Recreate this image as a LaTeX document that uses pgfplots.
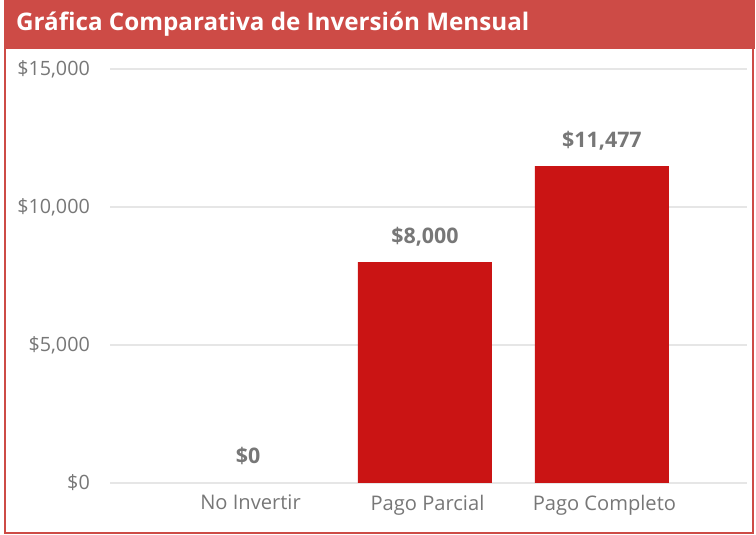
\documentclass[border=0pt]{standalone}
\usepackage{fontspec}
\setmainfont{Open Sans}
\usepackage{pgfplots}
\pgfplotsset{compat=1.18}
\definecolor{titlered}{HTML}{CD4B46}
\definecolor{barred}{HTML}{CA1414}
\definecolor{gridgray}{HTML}{E6E6E6}
\definecolor{txtgray}{HTML}{777777}
\begin{document}
\begin{tikzpicture}[x=1bp,y=1bp]
\path[fill=white] (0,0) rectangle (756,535);
\fill[titlered] (4,486) rectangle (755,535);
\draw[titlered, line width=2bp] (5,486) -- (5,2) -- (753,2) -- (753,486);
\node[anchor=west, text=white, font=\fontsize{24.3}{28}\selectfont\bfseries, inner sep=0] at (16,511) {Gráfica Comparativa de Inversión Mensual};
\begin{axis}[
  at={(110bp,52bp)}, anchor=south west,
  scale only axis, width=637bp, height=414bp,
  xmin=-0.78, xmax=2.82, ymin=0, ymax=15000,
  axis x line*=bottom, axis y line*=left,
  axis line style={draw=none},
  scaled y ticks=false,
  ytick={0,5000,10000,15000},
  yticklabels={\$0,{\$5,000},{\$10,000},{\$15,000}},
  xtick={0,1,2},
  xticklabels={No Invertir,Pago Parcial,Pago Completo},
  major tick length=0,
  ymajorgrids, grid style={gridgray, line width=1.2bp},
  yticklabel style={anchor=east, inner sep=0, xshift=-20bp, text=txtgray, font=\fontsize{19.8}{23}\selectfont},
  xticklabel style={anchor=north, inner sep=0, yshift=-12bp, xshift=2.5bp, text=txtgray, font=\fontsize{20.2}{23}\selectfont},
  /pgf/number format/assume math mode=true,
  clip=false,
  nodes near coords={\$\pgfmathprintnumber[fixed,precision=0,1000 sep={,}]{\pgfplotspointmeta}},
  every node near coord/.append style={anchor=base, inner sep=0, yshift=19bp, text=txtgray, font=\fontsize{21.5}{25}\selectfont\bfseries},
]
\addplot[ybar, bar shift=0pt, bar width=134bp, fill=barred, draw=none] coordinates {(1,8000) (2,11477)};
\addplot[ybar, bar shift=0pt, bar width=134bp, fill=none, draw=none] coordinates {(0,0)};
\end{axis}
\end{tikzpicture}
\end{document}
